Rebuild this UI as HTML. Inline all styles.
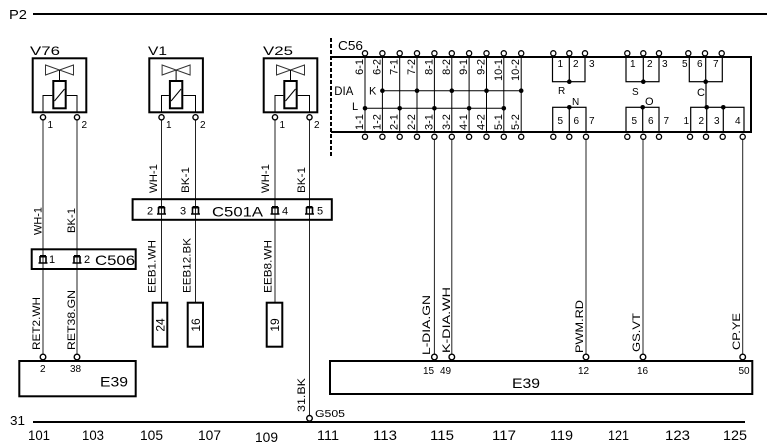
<!DOCTYPE html>
<html><head><meta charset="utf-8"><style>
html,body{margin:0;padding:0;background:#fff;}
svg{display:block;}
text{font-family:"Liberation Sans","DejaVu Sans",sans-serif;fill:#000;}
</style></head><body>
<svg width="767" height="448" viewBox="0 0 767 448" xmlns="http://www.w3.org/2000/svg">
<rect width="767" height="448" fill="#fff"/>

<!-- P2 rail -->
<text x="9" y="19" font-size="13" textLength="18" lengthAdjust="spacingAndGlyphs">P2</text>
<line x1="33" y1="14" x2="767" y2="14" stroke="#000" stroke-width="2"/>

<!-- ===== Valves ===== -->
<g fill="none" stroke="#000">
  <!-- V76 -->
  <rect x="32.7" y="58.3" width="53.6" height="54" stroke-width="2"/>
  <path d="M45.5,65 V75 L59.5,70 Z M73.5,65 V75 L59.5,70 Z" stroke="#333" stroke-width="1"/>
  <path d="M59.5,70 V80" stroke-width="1"/>
  <rect x="53.3" y="81" width="12.4" height="27.3" stroke-width="2"/>
  <path d="M54.5,101 L64.5,89" stroke-width="1"/>
  <path d="M43,112 V95.5 H52.3 M77,112 V95.5 H66.7" stroke-width="1"/>
  <!-- V1 -->
  <rect x="149.3" y="58.3" width="53.6" height="54" stroke-width="2"/>
  <path d="M162.1,65 V75 L176.1,70 Z M190.1,65 V75 L176.1,70 Z" stroke="#333" stroke-width="1"/>
  <path d="M176.1,70 V80" stroke-width="1"/>
  <rect x="169.9" y="81" width="12.4" height="27.3" stroke-width="2"/>
  <path d="M171.1,101 L181.1,89" stroke-width="1"/>
  <path d="M161.5,112 V95.5 H168.9 M195.5,112 V95.5 H183.3" stroke-width="1"/>
  <!-- V25 -->
  <rect x="263.7" y="58.3" width="53.6" height="54" stroke-width="2"/>
  <path d="M276.5,65 V75 L290.5,70 Z M304.5,65 V75 L290.5,70 Z" stroke="#333" stroke-width="1"/>
  <path d="M290.5,70 V80" stroke-width="1"/>
  <rect x="284.3" y="81" width="12.4" height="27.3" stroke-width="2"/>
  <path d="M285.5,101 L295.5,89" stroke-width="1"/>
  <path d="M275,112 V95.5 H283.3 M309.5,112 V95.5 H297.7" stroke-width="1"/>
</g>
<text x="30" y="55" font-size="12" textLength="30" lengthAdjust="spacingAndGlyphs">V76</text>
<text x="148" y="55" font-size="12" textLength="19" lengthAdjust="spacingAndGlyphs">V1</text>
<text x="263" y="55" font-size="12" textLength="30" lengthAdjust="spacingAndGlyphs">V25</text>
<g font-size="10">
  <text x="47.5" y="128">1</text><text x="81.5" y="128">2</text>
  <text x="166" y="128">1</text><text x="200" y="128">2</text>
  <text x="279.5" y="128">1</text><text x="314" y="128">2</text>
</g>

<!-- ===== Wires ===== -->
<g stroke="#222" stroke-width="1" fill="none">
  <path d="M43,120 V354 M77,120 V354"/>
  <path d="M161.5,120 V302 M195.5,120 V302"/>
  <path d="M275,120 V302 M309.5,120 V415.5"/>
  <path d="M434.4,139.5 V354 M451.8,139.5 V354 M586,139.5 V354 M643,139.5 V354 M742.7,139.5 V354"/>
</g>

<!-- pin circles on valves -->
<g fill="#fff" stroke="#000" stroke-width="1.4">
  <circle cx="43" cy="117.3" r="2.6"/><circle cx="77" cy="117.3" r="2.6"/>
  <circle cx="161.5" cy="117.3" r="2.6"/><circle cx="195.5" cy="117.3" r="2.6"/>
  <circle cx="275" cy="117.3" r="2.6"/><circle cx="309.5" cy="117.3" r="2.6"/>
</g>

<!-- ===== C501A ===== -->
<rect x="132.6" y="199.2" width="199.2" height="20.6" fill="none" stroke="#000" stroke-width="2"/>
<g fill="none" stroke="#000">
  <path d="M158.5,214 V207 M164.5,214 V207 M157,214 H166" stroke-width="1.6"/>
  <rect x="158.5" y="206" width="6" height="2.5" fill="#000" stroke="none"/>
  <path d="M192.5,214 V207 M198.5,214 V207 M191,214 H200" stroke-width="1.6"/>
  <rect x="192.5" y="206" width="6" height="2.5" fill="#000" stroke="none"/>
  <path d="M272,214 V207 M278,214 V207 M270.5,214 H279.5" stroke-width="1.6"/>
  <rect x="272" y="206" width="6" height="2.5" fill="#000" stroke="none"/>
  <path d="M306.5,214 V207 M312.5,214 V207 M305,214 H314" stroke-width="1.6"/>
  <rect x="306.5" y="206" width="6" height="2.5" fill="#000" stroke="none"/>
</g>
<g font-size="11">
  <text x="147" y="214.5">2</text><text x="180" y="214.5">3</text>
  <text x="282" y="214.5">4</text><text x="317" y="214.5">5</text>
</g>
<text x="212" y="216.5" font-size="14" textLength="51" lengthAdjust="spacingAndGlyphs">C501A</text>

<!-- ===== C506 ===== -->
<rect x="31.7" y="249.3" width="104" height="19.7" fill="none" stroke="#000" stroke-width="2"/>
<g fill="none" stroke="#000">
  <path d="M40,263 V256 M46,263 V256 M38.5,263 H47.5" stroke-width="1.6"/>
  <rect x="40" y="255" width="6" height="2.5" fill="#000" stroke="none"/>
  <path d="M74,263 V256 M80,263 V256 M72.5,263 H81.5" stroke-width="1.6"/>
  <rect x="74" y="255" width="6" height="2.5" fill="#000" stroke="none"/>
</g>
<g font-size="11"><text x="49" y="263">1</text><text x="84" y="263">2</text></g>
<text x="95" y="265" font-size="14" textLength="40" lengthAdjust="spacingAndGlyphs">C506</text>

<!-- ===== wire labels (vertical) ===== -->
<g font-size="11" lengthAdjust="spacingAndGlyphs">
  <text transform="translate(41.5,235) rotate(-90)" textLength="28" lengthAdjust="spacingAndGlyphs">WH-1</text>
  <text transform="translate(75,233) rotate(-90)" textLength="25" lengthAdjust="spacingAndGlyphs">BK-1</text>
  <text transform="translate(40,350) rotate(-90)" textLength="53" lengthAdjust="spacingAndGlyphs">RET2.WH</text>
  <text transform="translate(75,350) rotate(-90)" textLength="60" lengthAdjust="spacingAndGlyphs">RET38.GN</text>
  <text transform="translate(157,193) rotate(-90)" textLength="29" lengthAdjust="spacingAndGlyphs">WH-1</text>
  <text transform="translate(189,193) rotate(-90)" textLength="26" lengthAdjust="spacingAndGlyphs">BK-1</text>
  <text transform="translate(269,193) rotate(-90)" textLength="29" lengthAdjust="spacingAndGlyphs">WH-1</text>
  <text transform="translate(305,193) rotate(-90)" textLength="26" lengthAdjust="spacingAndGlyphs">BK-1</text>
  <text transform="translate(155.5,293) rotate(-90)" textLength="53" lengthAdjust="spacingAndGlyphs">EEB1.WH</text>
  <text transform="translate(190.5,293) rotate(-90)" textLength="55" lengthAdjust="spacingAndGlyphs">EEB12.BK</text>
  <text transform="translate(271.5,293) rotate(-90)" textLength="53" lengthAdjust="spacingAndGlyphs">EEB8.WH</text>
  <text transform="translate(305,412) rotate(-90)" textLength="34" lengthAdjust="spacingAndGlyphs">31.BK</text>
  <text transform="translate(430,355) rotate(-90)" textLength="60" lengthAdjust="spacingAndGlyphs">L-DIA.GN</text>
  <text transform="translate(450,353) rotate(-90)" textLength="66" lengthAdjust="spacingAndGlyphs">K-DIA.WH</text>
  <text transform="translate(583,353) rotate(-90)" textLength="53" lengthAdjust="spacingAndGlyphs">PWM.RD</text>
  <text transform="translate(640,352) rotate(-90)" textLength="39" lengthAdjust="spacingAndGlyphs">GS.VT</text>
  <text transform="translate(740,350) rotate(-90)" textLength="37" lengthAdjust="spacingAndGlyphs">CP.YE</text>
</g>

<!-- ===== small boxes 24 / 16 / 19 ===== -->
<g fill="none" stroke="#000" stroke-width="2">
  <rect x="152.7" y="302.7" width="14.6" height="44"/>
  <rect x="187.7" y="302.7" width="15.3" height="44"/>
  <rect x="266.7" y="302.7" width="15.6" height="44"/>
</g>
<g font-size="12" text-anchor="middle">
  <text transform="translate(164.5,325) rotate(-90)">24</text>
  <text transform="translate(199.8,325) rotate(-90)">16</text>
  <text transform="translate(279,325) rotate(-90)">19</text>
</g>

<!-- ===== E39 left ===== -->
<rect x="19.3" y="361" width="116.4" height="35.3" fill="none" stroke="#000" stroke-width="2"/>
<g font-size="10"><text x="40" y="372">2</text><text x="70" y="372">38</text></g>
<text x="100" y="386.5" font-size="14" textLength="28" lengthAdjust="spacingAndGlyphs">E39</text>

<!-- ===== E39 right ===== -->
<rect x="330" y="361" width="422.3" height="33" fill="none" stroke="#000" stroke-width="2"/>
<g font-size="10">
  <text x="423" y="374">15</text><text x="440" y="374">49</text>
  <text x="578" y="374">12</text><text x="637" y="374">16</text><text x="738.5" y="374">50</text>
</g>
<text x="512" y="388" font-size="14" textLength="28" lengthAdjust="spacingAndGlyphs">E39</text>

<!-- E39 pin circles -->
<g fill="#fff" stroke="#000" stroke-width="1.4">
  <circle cx="43" cy="357" r="2.8"/><circle cx="77" cy="357" r="2.8"/>
  <circle cx="434.4" cy="357" r="2.8"/><circle cx="451.8" cy="357" r="2.8"/>
  <circle cx="586" cy="357" r="2.8"/><circle cx="643" cy="357" r="2.8"/>
  <circle cx="742.7" cy="357" r="2.8"/>
</g>

<!-- ===== C56 ===== -->
<line x1="331" y1="38" x2="331" y2="157" stroke="#000" stroke-width="2" stroke-dasharray="4 2"/>
<text x="338" y="50" font-size="13" textLength="25" lengthAdjust="spacingAndGlyphs">C56</text>
<path d="M331,57 H751 V132 H331" fill="none" stroke="#000" stroke-width="2"/>
<!-- cell lines -->
<g stroke="#000" stroke-width="1">
  <path d="M365,57 V132 M382.4,57 V132 M399.7,57 V132 M417,57 V132 M434.4,57 V132 M451.8,57 V132 M469.1,57 V132 M486.5,57 V132 M503.8,57 V132 M521.2,57 V132"/>
  <path d="M382.4,90.7 H521.2 M365,108.3 H503.8"/>
</g>
<g fill="#000">
  <circle cx="382.4" cy="90.7" r="2.3"/><circle cx="417" cy="90.7" r="2.3"/><circle cx="451.8" cy="90.7" r="2.3"/><circle cx="486.5" cy="90.7" r="2.3"/><circle cx="521.2" cy="90.7" r="2.3"/>
  <circle cx="365" cy="108.3" r="2.3"/><circle cx="399.7" cy="108.3" r="2.3"/><circle cx="434.4" cy="108.3" r="2.3"/><circle cx="469.1" cy="108.3" r="2.3"/><circle cx="503.8" cy="108.3" r="2.3"/>
</g>
<text x="334.3" y="95" font-size="12" textLength="19" lengthAdjust="spacingAndGlyphs">DIA</text>
<text x="369" y="94.5" font-size="11">K</text>
<text x="352" y="110" font-size="11">L</text>
<g font-size="11" text-anchor="end">
  <text transform="translate(363,59) rotate(-90)">6-1</text>
  <text transform="translate(380.4,59) rotate(-90)">6-2</text>
  <text transform="translate(397.7,59) rotate(-90)">7-1</text>
  <text transform="translate(415,59) rotate(-90)">7-2</text>
  <text transform="translate(432.4,59) rotate(-90)">8-1</text>
  <text transform="translate(449.8,59) rotate(-90)">8-2</text>
  <text transform="translate(467.1,59) rotate(-90)">9-1</text>
  <text transform="translate(484.5,59) rotate(-90)">9-2</text>
  <text transform="translate(501.8,59) rotate(-90)">10-1</text>
  <text transform="translate(519.2,59) rotate(-90)">10-2</text>
</g>
<g font-size="11">
  <text transform="translate(363,130) rotate(-90)">1-1</text>
  <text transform="translate(380.4,130) rotate(-90)">1-2</text>
  <text transform="translate(397.7,130) rotate(-90)">2-1</text>
  <text transform="translate(415,130) rotate(-90)">2-2</text>
  <text transform="translate(432.4,130) rotate(-90)">3-1</text>
  <text transform="translate(449.8,130) rotate(-90)">3-2</text>
  <text transform="translate(467.1,130) rotate(-90)">4-1</text>
  <text transform="translate(484.5,130) rotate(-90)">4-2</text>
  <text transform="translate(501.8,130) rotate(-90)">5-1</text>
  <text transform="translate(519.2,130) rotate(-90)">5-2</text>
</g>

<!-- right groups -->
<g fill="none" stroke="#000" stroke-width="1.2">
  <rect x="552.5" y="57" width="32.5" height="24.7"/><path d="M569.3,57 V81.7"/>
  <rect x="626" y="57" width="33" height="24.7"/><path d="M643.3,57 V81.7"/>
  <rect x="689.3" y="57" width="33" height="24.7"/><path d="M705.7,57 V81.7"/>
  <path d="M706,81.7 V107.3"/>
  <rect x="552.7" y="107.3" width="33.3" height="24.7"/><path d="M569.3,107.3 V132"/>
  <rect x="626" y="107.3" width="33" height="24.7"/><path d="M642.7,107.3 V132"/>
  <rect x="690.7" y="107.3" width="53.3" height="24.7"/><path d="M706.7,107.3 V132 M723.3,107.3 V132"/>
</g>
<g fill="#000">
  <circle cx="569.3" cy="81.7" r="2.3"/><circle cx="643.3" cy="81.7" r="2.3"/><circle cx="705.7" cy="81.7" r="2.3"/>
  <circle cx="569.3" cy="107.3" r="2.3"/><circle cx="642.7" cy="107.3" r="2.3"/>
  <circle cx="706.7" cy="107.3" r="2.3"/><circle cx="723.3" cy="107.3" r="2.3"/>
</g>
<g font-size="10">
  <text x="557.5" y="67">1</text><text x="573" y="67">2</text><text x="589" y="67">3</text>
  <text x="630" y="67">1</text><text x="647" y="67">2</text><text x="662" y="67">3</text>
  <text x="682" y="67">5</text><text x="697" y="67">6</text><text x="713" y="67">7</text>
  <text x="557.5" y="124">5</text><text x="573.5" y="124">6</text><text x="589" y="124">7</text>
  <text x="631.5" y="124">5</text><text x="648" y="124">6</text><text x="663.5" y="124">7</text>
  <text x="683.5" y="124">1</text><text x="698.5" y="124">2</text><text x="714" y="124">3</text><text x="735" y="124">4</text>
  <text x="558" y="94">R</text>
  <text x="632" y="95">S</text>
  <text x="572" y="105">N</text>
</g>
<text x="697" y="96" font-size="11">C</text>
<text x="645" y="105" font-size="11">O</text>

<!-- C56 pin circles -->
<g fill="#fff" stroke="#000" stroke-width="1.3">
  <circle cx="365" cy="53.3" r="2.6"/><circle cx="382.4" cy="53.3" r="2.6"/><circle cx="399.7" cy="53.3" r="2.6"/><circle cx="417" cy="53.3" r="2.6"/><circle cx="434.4" cy="53.3" r="2.6"/><circle cx="451.8" cy="53.3" r="2.6"/><circle cx="469.1" cy="53.3" r="2.6"/><circle cx="486.5" cy="53.3" r="2.6"/><circle cx="503.8" cy="53.3" r="2.6"/><circle cx="521.2" cy="53.3" r="2.6"/>
  <circle cx="553.3" cy="53.3" r="2.6"/><circle cx="569.3" cy="53.3" r="2.6"/><circle cx="585" cy="53.3" r="2.6"/>
  <circle cx="627.3" cy="53.3" r="2.6"/><circle cx="643.3" cy="53.3" r="2.6"/><circle cx="659" cy="53.3" r="2.6"/>
  <circle cx="688.3" cy="53.3" r="2.6"/><circle cx="705" cy="53.3" r="2.6"/><circle cx="721.7" cy="53.3" r="2.6"/>
  <circle cx="365" cy="136.8" r="2.6"/><circle cx="382.4" cy="136.8" r="2.6"/><circle cx="399.7" cy="136.8" r="2.6"/><circle cx="417" cy="136.8" r="2.6"/><circle cx="434.4" cy="136.8" r="2.6"/><circle cx="451.8" cy="136.8" r="2.6"/><circle cx="469.1" cy="136.8" r="2.6"/><circle cx="486.5" cy="136.8" r="2.6"/><circle cx="503.8" cy="136.8" r="2.6"/><circle cx="521.2" cy="136.8" r="2.6"/>
  <circle cx="553.3" cy="136.8" r="2.6"/><circle cx="569.3" cy="136.8" r="2.6"/><circle cx="586" cy="136.8" r="2.6"/>
  <circle cx="627.3" cy="136.8" r="2.6"/><circle cx="643.3" cy="136.8" r="2.6"/><circle cx="659" cy="136.8" r="2.6"/>
  <circle cx="690" cy="136.8" r="2.6"/><circle cx="706" cy="136.8" r="2.6"/><circle cx="722.7" cy="136.8" r="2.6"/><circle cx="742.7" cy="136.8" r="2.6"/>
</g>

<!-- ===== Ground rail ===== -->
<line x1="33" y1="422" x2="745" y2="422" stroke="#000" stroke-width="2"/>
<circle cx="309.5" cy="418.3" r="2.8" fill="#fff" stroke="#000" stroke-width="1.4"/>
<text x="315" y="417" font-size="10" textLength="30" lengthAdjust="spacingAndGlyphs">G505</text>
<text x="10" y="425" font-size="13" textLength="15" lengthAdjust="spacingAndGlyphs">31</text>
<g font-size="14">
  <text x="28" y="440" textLength="22" lengthAdjust="spacingAndGlyphs">101</text>
  <text x="82" y="440" textLength="22" lengthAdjust="spacingAndGlyphs">103</text>
  <text x="140" y="440" textLength="23" lengthAdjust="spacingAndGlyphs">105</text>
  <text x="198" y="440" textLength="23" lengthAdjust="spacingAndGlyphs">107</text>
  <text x="255" y="442" textLength="23" lengthAdjust="spacingAndGlyphs">109</text>
  <text x="317" y="440" textLength="22" lengthAdjust="spacingAndGlyphs">111</text>
  <text x="373" y="440" textLength="24" lengthAdjust="spacingAndGlyphs">113</text>
  <text x="430" y="440" textLength="24" lengthAdjust="spacingAndGlyphs">115</text>
  <text x="492" y="440" textLength="24" lengthAdjust="spacingAndGlyphs">117</text>
  <text x="550" y="440" textLength="23" lengthAdjust="spacingAndGlyphs">119</text>
  <text x="608" y="440" textLength="21" lengthAdjust="spacingAndGlyphs">121</text>
  <text x="665" y="440" textLength="25" lengthAdjust="spacingAndGlyphs">123</text>
  <text x="723" y="440" textLength="24" lengthAdjust="spacingAndGlyphs">125</text>
</g>
</svg>
</body></html>
